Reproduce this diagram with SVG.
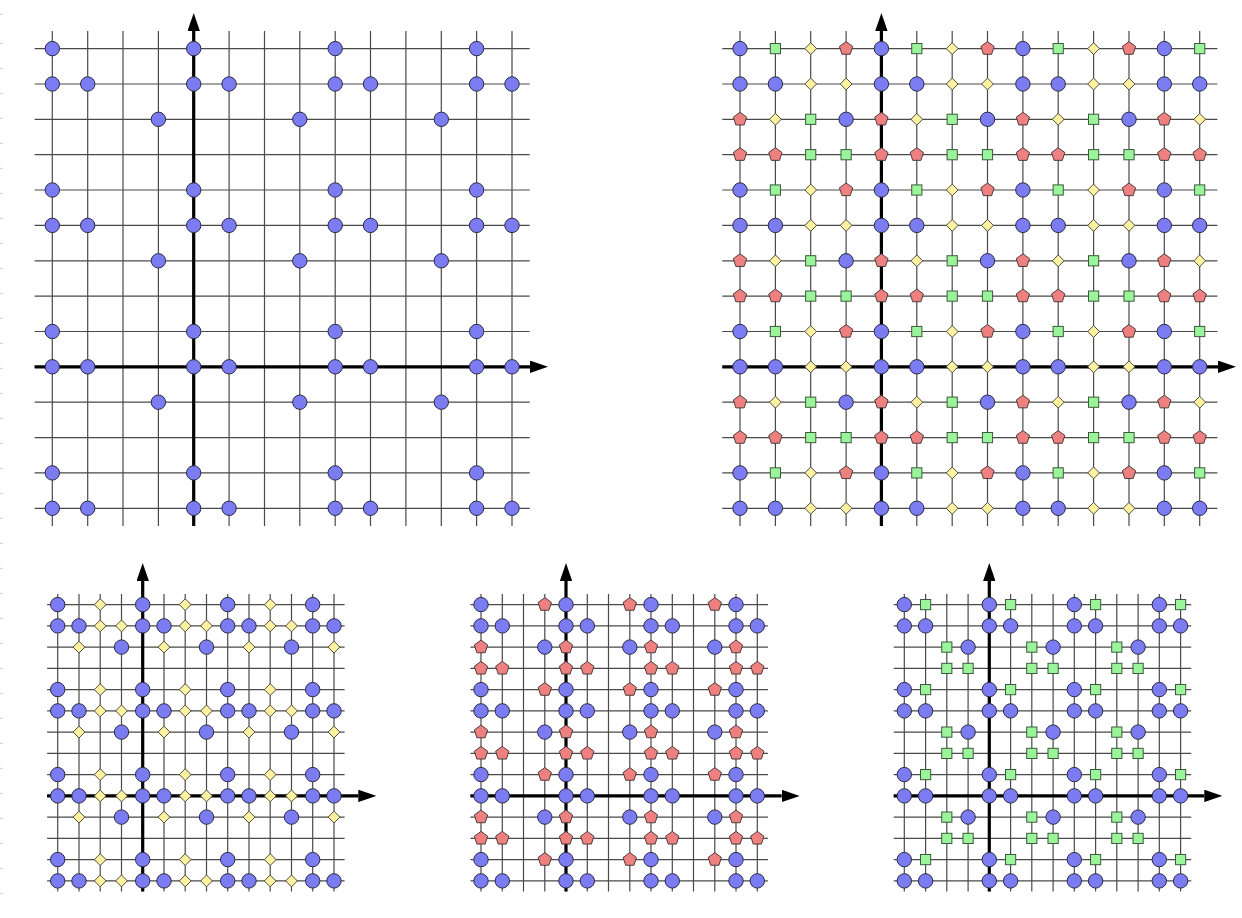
<svg xmlns="http://www.w3.org/2000/svg" xmlns:xlink="http://www.w3.org/1999/xlink" width="1242" height="918" viewBox="0 0 1242 918">
<style>
.grid{fill:none;stroke:#4a4a4a;stroke-width:1.2}
.axis{fill:none;stroke:#000;stroke-width:3.2;marker-end:url(#arr)}
.tick{stroke:#cfcfcf;stroke-width:1}
</style>
<defs>
<marker id="arr" viewBox="0 0 18 12.4" refX="0" refY="6.2" markerWidth="18" markerHeight="12.4" markerUnits="userSpaceOnUse" orient="auto"><path d="M0,0L18,6.2L0,12.4z" fill="#000"/></marker>
<circle id="C" r="7.2" fill="#7b7bf2" stroke="#2b2b45" stroke-width="1"/>
<rect id="S" x="-5.1" y="-5.1" width="10.2" height="10.2" fill="#9af59a" stroke="#3d5a3d" stroke-width="1"/>
<polygon id="D" points="0,-5.9 5.9,0 0,5.9 -5.9,0" fill="#fcf2a2" stroke="#4d4d3d" stroke-width="1"/>
<polygon id="P" points="0,-7 6.66,-2.16 4.11,5.66 -4.11,5.66 -6.66,-2.16" fill="#ee8080" stroke="#4d3d3d" stroke-width="1"/>
<!-- top-left rows -->
<g id="TL0"><use href="#C" x="52.3"/><use href="#C" x="193.7"/><use href="#C" x="335.2"/><use href="#C" x="476.6"/></g>
<g id="TL1"><use href="#C" x="52.3"/><use href="#C" x="87.7"/><use href="#C" x="193.7"/><use href="#C" x="229.1"/><use href="#C" x="335.2"/><use href="#C" x="370.5"/><use href="#C" x="476.6"/><use href="#C" x="512"/></g>
<g id="TL2"><use href="#C" x="158.4"/><use href="#C" x="299.8"/><use href="#C" x="441.3"/></g>
<!-- top-right rows -->
<g id="TR0"><use href="#C" x="740"/><use href="#S" x="775.4"/><use href="#D" x="810.7"/><use href="#P" x="846.1"/><use href="#C" x="881.4"/><use href="#S" x="916.8"/><use href="#D" x="952.2"/><use href="#P" x="987.5"/><use href="#C" x="1022.9"/><use href="#S" x="1058.2"/><use href="#D" x="1093.6"/><use href="#P" x="1129"/><use href="#C" x="1164.3"/><use href="#S" x="1199.7"/></g>
<g id="TR1"><use href="#C" x="740"/><use href="#C" x="775.4"/><use href="#D" x="810.7"/><use href="#D" x="846.1"/><use href="#C" x="881.4"/><use href="#C" x="916.8"/><use href="#D" x="952.2"/><use href="#D" x="987.5"/><use href="#C" x="1022.9"/><use href="#C" x="1058.2"/><use href="#D" x="1093.6"/><use href="#D" x="1129"/><use href="#C" x="1164.3"/><use href="#C" x="1199.7"/></g>
<g id="TR2"><use href="#P" x="740"/><use href="#D" x="775.4"/><use href="#S" x="810.7"/><use href="#C" x="846.1"/><use href="#P" x="881.4"/><use href="#D" x="916.8"/><use href="#S" x="952.2"/><use href="#C" x="987.5"/><use href="#P" x="1022.9"/><use href="#D" x="1058.2"/><use href="#S" x="1093.6"/><use href="#C" x="1129"/><use href="#P" x="1164.3"/><use href="#D" x="1199.7"/></g>
<g id="TR3"><use href="#P" x="740"/><use href="#P" x="775.4"/><use href="#S" x="810.7"/><use href="#S" x="846.1"/><use href="#P" x="881.4"/><use href="#P" x="916.8"/><use href="#S" x="952.2"/><use href="#S" x="987.5"/><use href="#P" x="1022.9"/><use href="#P" x="1058.2"/><use href="#S" x="1093.6"/><use href="#S" x="1129"/><use href="#P" x="1164.3"/><use href="#P" x="1199.7"/></g>
<!-- bottom-left rows -->
<g id="BL0"><use href="#C" x="57.7"/><use href="#D" x="100.2"/><use href="#C" x="142.7"/><use href="#D" x="185.2"/><use href="#C" x="227.7"/><use href="#D" x="270.2"/><use href="#C" x="312.7"/></g>
<g id="BL1"><use href="#C" x="57.7"/><use href="#C" x="79"/><use href="#D" x="100.2"/><use href="#D" x="121.5"/><use href="#C" x="142.7"/><use href="#C" x="164"/><use href="#D" x="185.2"/><use href="#D" x="206.5"/><use href="#C" x="227.7"/><use href="#C" x="249"/><use href="#D" x="270.2"/><use href="#D" x="291.5"/><use href="#C" x="312.7"/><use href="#C" x="334"/></g>
<g id="BL2"><use href="#D" x="79"/><use href="#C" x="121.5"/><use href="#D" x="164"/><use href="#C" x="206.5"/><use href="#D" x="249"/><use href="#C" x="291.5"/><use href="#D" x="334"/></g>
<!-- bottom-middle rows -->
<g id="BM0"><use href="#C" x="481"/><use href="#P" x="544.8"/><use href="#C" x="566"/><use href="#P" x="629.8"/><use href="#C" x="651"/><use href="#P" x="714.8"/><use href="#C" x="736"/></g>
<g id="BM1"><use href="#C" x="481"/><use href="#C" x="502.3"/><use href="#C" x="566"/><use href="#C" x="587.3"/><use href="#C" x="651"/><use href="#C" x="672.3"/><use href="#C" x="736"/><use href="#C" x="757.3"/></g>
<g id="BM2"><use href="#P" x="481"/><use href="#C" x="544.8"/><use href="#P" x="566"/><use href="#C" x="629.8"/><use href="#P" x="651"/><use href="#C" x="714.8"/><use href="#P" x="736"/></g>
<g id="BM3"><use href="#P" x="481"/><use href="#P" x="502.3"/><use href="#P" x="566"/><use href="#P" x="587.3"/><use href="#P" x="651"/><use href="#P" x="672.3"/><use href="#P" x="736"/><use href="#P" x="757.3"/></g>
<!-- bottom-right rows -->
<g id="BR0"><use href="#C" x="904.3"/><use href="#S" x="925.6"/><use href="#C" x="989.3"/><use href="#S" x="1010.6"/><use href="#C" x="1074.3"/><use href="#S" x="1095.6"/><use href="#C" x="1159.3"/><use href="#S" x="1180.6"/></g>
<g id="BR1"><use href="#C" x="904.3"/><use href="#C" x="925.6"/><use href="#C" x="989.3"/><use href="#C" x="1010.6"/><use href="#C" x="1074.3"/><use href="#C" x="1095.6"/><use href="#C" x="1159.3"/><use href="#C" x="1180.6"/></g>
<g id="BR2"><use href="#S" x="946.8"/><use href="#C" x="968.1"/><use href="#S" x="1031.8"/><use href="#C" x="1053.1"/><use href="#S" x="1116.8"/><use href="#C" x="1138.1"/></g>
<g id="BR3"><use href="#S" x="946.8"/><use href="#S" x="968.1"/><use href="#S" x="1031.8"/><use href="#S" x="1053.1"/><use href="#S" x="1116.8"/><use href="#S" x="1138.1"/></g>
</defs>
<rect width="1242" height="918" fill="#fff"/>
<g id="edge-ticks">
<path class="tick" d="M0 14.3H3M0 43.3H3M0 68.3H3M0 93.3H3M0 118.3H3M0 143.3H3M0 168.3H3M0 193.3H3M0 218.3H3M0 243.3H3M0 268.3H3M0 293.3H3M0 318.3H3M0 343.3H3M0 368.3H3M0 393.3H3M0 418.3H3M0 443.3H3M0 468.3H3M0 493.3H3M0 518.3H3M0 543.3H3M0 568.3H3M0 593.3H3M0 618.3H3M0 643.3H3M0 668.3H3M0 693.3H3M0 718.3H3M0 743.3H3M0 768.3H3M0 793.3H3M0 818.3H3M0 843.3H3M0 868.3H3M0 893.3H3"/>
</g>

<g id="panel-top-left">
<path class="grid" d="M52.3 30.9V526M87.7 30.9V526M123 30.9V526M158.4 30.9V526M193.7 30.9V526M229.1 30.9V526M264.5 30.9V526M299.8 30.9V526M335.2 30.9V526M370.5 30.9V526M405.9 30.9V526M441.3 30.9V526M476.6 30.9V526M512 30.9V526M34.6 48.6H529.7M34.6 84H529.7M34.6 119.3H529.7M34.6 154.7H529.7M34.6 190H529.7M34.6 225.4H529.7M34.6 260.8H529.7M34.6 296.1H529.7M34.6 331.5H529.7M34.6 366.8H529.7M34.6 402.2H529.7M34.6 437.6H529.7M34.6 472.9H529.7M34.6 508.3H529.7"/>
<g id="axes-top-left"><path class="axis" d="M193.7 526V31"/><path class="axis" d="M34.6 366.8H530"/></g>
<g id="points-top-left">
<use href="#TL0" y="48.6"/><use href="#TL0" y="190"/><use href="#TL0" y="331.5"/><use href="#TL0" y="472.9"/>
<use href="#TL1" y="84"/><use href="#TL1" y="225.4"/><use href="#TL1" y="366.8"/><use href="#TL1" y="508.3"/>
<use href="#TL2" y="119.3"/><use href="#TL2" y="260.8"/><use href="#TL2" y="402.2"/>
</g>
</g>

<g id="panel-top-right">
<path class="grid" d="M740 30.9V526M775.4 30.9V526M810.7 30.9V526M846.1 30.9V526M881.4 30.9V526M916.8 30.9V526M952.2 30.9V526M987.5 30.9V526M1022.9 30.9V526M1058.2 30.9V526M1093.6 30.9V526M1129 30.9V526M1164.3 30.9V526M1199.7 30.9V526M722.3 48.6H1217.4M722.3 84H1217.4M722.3 119.3H1217.4M722.3 154.7H1217.4M722.3 190H1217.4M722.3 225.4H1217.4M722.3 260.8H1217.4M722.3 296.1H1217.4M722.3 331.5H1217.4M722.3 366.8H1217.4M722.3 402.2H1217.4M722.3 437.6H1217.4M722.3 472.9H1217.4M722.3 508.3H1217.4"/>
<g id="axes-top-right"><path class="axis" d="M881.4 526V31"/><path class="axis" d="M722.3 366.8H1218"/></g>
<g id="points-top-right">
<use href="#TR0" y="48.6"/><use href="#TR0" y="190"/><use href="#TR0" y="331.5"/><use href="#TR0" y="472.9"/>
<use href="#TR1" y="84"/><use href="#TR1" y="225.4"/><use href="#TR1" y="366.8"/><use href="#TR1" y="508.3"/>
<use href="#TR2" y="119.3"/><use href="#TR2" y="260.8"/><use href="#TR2" y="402.2"/>
<use href="#TR3" y="154.7"/><use href="#TR3" y="296.1"/><use href="#TR3" y="437.6"/>
</g>
</g>

<g id="panel-bottom-left">
<path class="grid" d="M57.7 594V891.5M79 594V891.5M100.2 594V891.5M121.5 594V891.5M142.7 594V891.5M164 594V891.5M185.2 594V891.5M206.5 594V891.5M227.7 594V891.5M249 594V891.5M270.2 594V891.5M291.5 594V891.5M312.7 594V891.5M334 594V891.5M47.1 604.6H344.6M47.1 625.9H344.6M47.1 647.1H344.6M47.1 668.4H344.6M47.1 689.6H344.6M47.1 710.9H344.6M47.1 732.1H344.6M47.1 753.4H344.6M47.1 774.6H344.6M47.1 795.9H344.6M47.1 817.1H344.6M47.1 838.4H344.6M47.1 859.6H344.6M47.1 880.9H344.6"/>
<g id="axes-bottom-left"><path class="axis" d="M142.7 891.5V581"/><path class="axis" d="M47.1 795.9H358.3"/></g>
<g id="points-bottom-left">
<use href="#BL0" y="604.6"/><use href="#BL0" y="689.6"/><use href="#BL0" y="774.6"/><use href="#BL0" y="859.6"/>
<use href="#BL1" y="625.9"/><use href="#BL1" y="710.9"/><use href="#BL1" y="795.9"/><use href="#BL1" y="880.9"/>
<use href="#BL2" y="647.1"/><use href="#BL2" y="732.1"/><use href="#BL2" y="817.1"/>
</g>
</g>

<g id="panel-bottom-middle">
<path class="grid" d="M481 594V891.5M502.3 594V891.5M523.5 594V891.5M544.8 594V891.5M566 594V891.5M587.3 594V891.5M608.5 594V891.5M629.8 594V891.5M651 594V891.5M672.3 594V891.5M693.5 594V891.5M714.8 594V891.5M736 594V891.5M757.3 594V891.5M470.4 604.6H767.9M470.4 625.9H767.9M470.4 647.1H767.9M470.4 668.4H767.9M470.4 689.6H767.9M470.4 710.9H767.9M470.4 732.1H767.9M470.4 753.4H767.9M470.4 774.6H767.9M470.4 795.9H767.9M470.4 817.1H767.9M470.4 838.4H767.9M470.4 859.6H767.9M470.4 880.9H767.9"/>
<g id="axes-bottom-middle"><path class="axis" d="M566 891.5V581"/><path class="axis" d="M470.4 795.9H781.7"/></g>
<g id="points-bottom-middle">
<use href="#BM0" y="604.6"/><use href="#BM0" y="689.6"/><use href="#BM0" y="774.6"/><use href="#BM0" y="859.6"/>
<use href="#BM1" y="625.9"/><use href="#BM1" y="710.9"/><use href="#BM1" y="795.9"/><use href="#BM1" y="880.9"/>
<use href="#BM2" y="647.1"/><use href="#BM2" y="732.1"/><use href="#BM2" y="817.1"/>
<use href="#BM3" y="668.4"/><use href="#BM3" y="753.4"/><use href="#BM3" y="838.4"/>
</g>
</g>

<g id="panel-bottom-right">
<path class="grid" d="M904.3 594V891.5M925.6 594V891.5M946.8 594V891.5M968.1 594V891.5M989.3 594V891.5M1010.6 594V891.5M1031.8 594V891.5M1053.1 594V891.5M1074.3 594V891.5M1095.6 594V891.5M1116.8 594V891.5M1138.1 594V891.5M1159.3 594V891.5M1180.6 594V891.5M893.7 604.6H1191.2M893.7 625.9H1191.2M893.7 647.1H1191.2M893.7 668.4H1191.2M893.7 689.6H1191.2M893.7 710.9H1191.2M893.7 732.1H1191.2M893.7 753.4H1191.2M893.7 774.6H1191.2M893.7 795.9H1191.2M893.7 817.1H1191.2M893.7 838.4H1191.2M893.7 859.6H1191.2M893.7 880.9H1191.2"/>
<g id="axes-bottom-right"><path class="axis" d="M989.3 891.5V581"/><path class="axis" d="M893.7 795.9H1204.3"/></g>
<g id="points-bottom-right">
<use href="#BR0" y="604.6"/><use href="#BR0" y="689.6"/><use href="#BR0" y="774.6"/><use href="#BR0" y="859.6"/>
<use href="#BR1" y="625.9"/><use href="#BR1" y="710.9"/><use href="#BR1" y="795.9"/><use href="#BR1" y="880.9"/>
<use href="#BR2" y="647.1"/><use href="#BR2" y="732.1"/><use href="#BR2" y="817.1"/>
<use href="#BR3" y="668.4"/><use href="#BR3" y="753.4"/><use href="#BR3" y="838.4"/>
</g>
</g>
</svg>
